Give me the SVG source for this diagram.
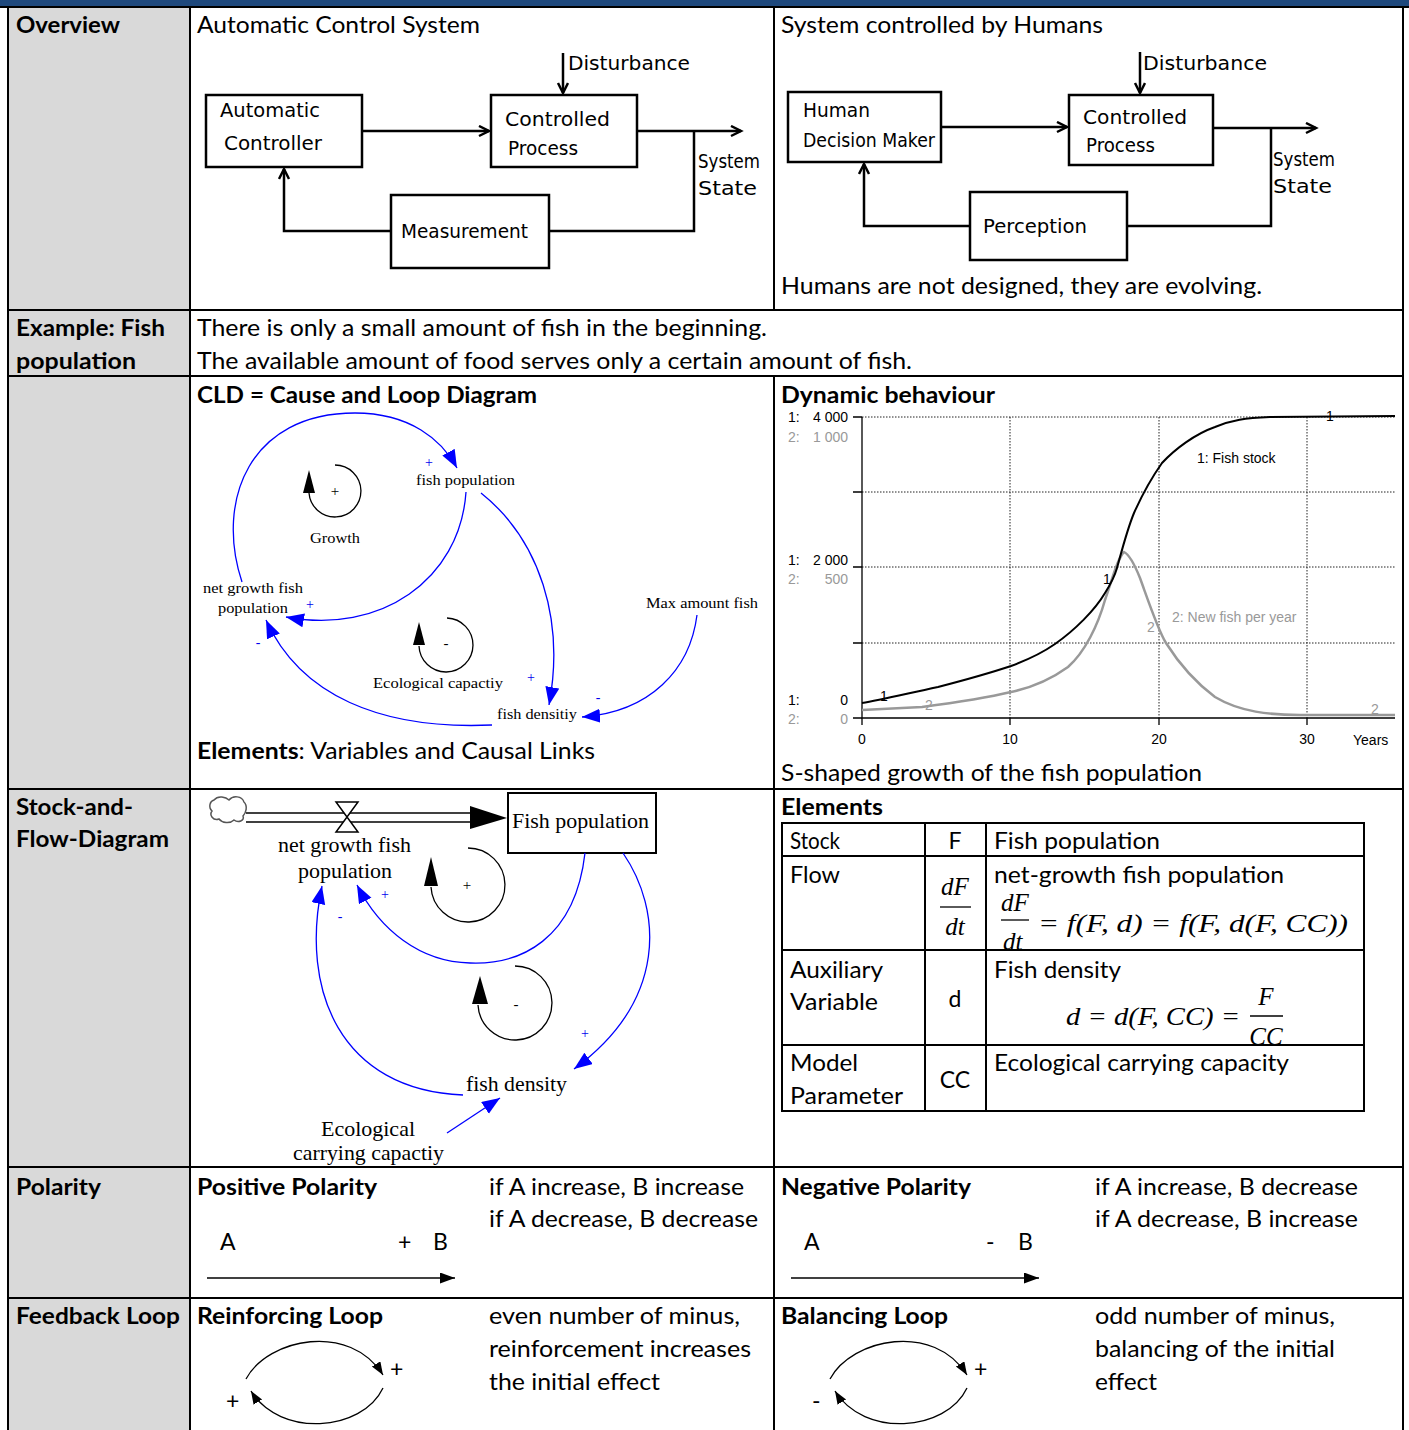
<svg xmlns="http://www.w3.org/2000/svg" width="1409" height="1430" viewBox="0 0 1409 1430">
<style>
.t{font-family:Lato,"Open Sans",sans-serif;font-size:23px;fill:#000}
.b{font-weight:bold}
.hw{font-family:"DejaVu Sans",sans-serif;font-size:20px;fill:#000}
.sf{font-family:"Liberation Serif",serif;font-size:15px;fill:#000}
.sf2{font-family:"Liberation Serif",serif;font-size:21px;fill:#000}
.ax{font-family:"Liberation Sans",sans-serif;font-size:14px;fill:#000}
.axg{font-family:"Liberation Sans",sans-serif;font-size:14px;fill:#999}
.m{font-family:"Liberation Serif",serif;font-style:italic;font-size:25px;fill:#000}
.bs{font-family:"Liberation Serif",serif;font-size:14px;fill:#0000ee}
.grid{stroke:#222;stroke-width:1;stroke-dasharray:1.5 1.5;fill:none}
.hb{fill:none;stroke:#000;stroke-width:2.5}
.hl{fill:none;stroke:#000;stroke-width:2.5}
.blue{fill:none;stroke:#0000ff;stroke-width:1.3}
.bl{fill:none;stroke:#000;stroke-width:1.3}
.rule{stroke:#000;stroke-width:2}
</style>
<defs>
<marker id="open" markerUnits="userSpaceOnUse" markerWidth="14" markerHeight="14" refX="11" refY="6" orient="auto"><path d="M1,1 L11,6 L1,11" fill="none" stroke="#000" stroke-width="2.5"/></marker>
<marker id="bh" markerUnits="userSpaceOnUse" markerWidth="20" markerHeight="16" refX="18" refY="7" orient="auto"><path d="M0,0 L18,7 L0,14 Z" fill="#0000ff"/></marker>
<marker id="kh" markerUnits="userSpaceOnUse" markerWidth="16" markerHeight="12" refX="15" refY="5.5" orient="auto"><path d="M0,0 L15,5.5 L0,11 Z" fill="#000"/></marker>
<marker id="ks" markerUnits="userSpaceOnUse" markerWidth="14" markerHeight="12" refX="13" refY="5" orient="auto"><path d="M0,0 L13,5 L0,10 Z" fill="#000"/></marker>
</defs>

<g id="table">
<rect x="0" y="0" width="1409" height="6" fill="#1f497d"/>
<rect x="8" y="6" width="182" height="1424" fill="#d9d9d9"/>
<line class="rule" x1="0" y1="7" x2="1409" y2="7"/>
<line class="rule" x1="8" y1="6" x2="8" y2="1430"/>
<line class="rule" x1="190" y1="6" x2="190" y2="1430"/>
<line class="rule" x1="774" y1="6" x2="774" y2="310"/>
<line class="rule" x1="774" y1="376" x2="774" y2="1430"/>
<line class="rule" x1="1403" y1="6" x2="1403" y2="1430"/>
<line class="rule" x1="8" y1="310" x2="1403" y2="310"/>
<line class="rule" x1="8" y1="376" x2="1403" y2="376"/>
<line class="rule" x1="8" y1="789" x2="1403" y2="789"/>
<line class="rule" x1="8" y1="1167" x2="1403" y2="1167"/>
<line class="rule" x1="8" y1="1298" x2="1403" y2="1298"/>
</g>

<g id="labels">
<text class="t b" x="16" y="33" textLength="104" lengthAdjust="spacingAndGlyphs">Overview</text>
<text class="t b" x="16" y="336" textLength="149" lengthAdjust="spacingAndGlyphs">Example: Fish</text>
<text class="t b" x="16" y="369" textLength="120" lengthAdjust="spacingAndGlyphs">population</text>
<text class="t b" x="16" y="815" textLength="117" lengthAdjust="spacingAndGlyphs">Stock-and-</text>
<text class="t b" x="16" y="847" textLength="153" lengthAdjust="spacingAndGlyphs">Flow-Diagram</text>
<text class="t b" x="16" y="1195" textLength="85" lengthAdjust="spacingAndGlyphs">Polarity</text>
<text class="t b" x="16" y="1324" textLength="164" lengthAdjust="spacingAndGlyphs">Feedback Loop</text>
</g>

<g id="overview-text">
<text class="t" x="197" y="33" textLength="283" lengthAdjust="spacingAndGlyphs">Automatic Control System</text>
<text class="t" x="781" y="33" textLength="322" lengthAdjust="spacingAndGlyphs">System controlled by Humans</text>
<text class="t" x="781" y="294" textLength="481" lengthAdjust="spacingAndGlyphs">Humans are not designed, they are evolving.</text>
<text class="t" x="197" y="336" textLength="570" lengthAdjust="spacingAndGlyphs">There is only a small amount of fish in the beginning.</text>
<text class="t" x="197" y="369" textLength="715" lengthAdjust="spacingAndGlyphs">The available amount of food serves only a certain amount of fish.</text>
</g>

<g id="auto-controller"><rect class="hb" x="206" y="95" width="156" height="72"/><text class="hw" x="220" y="117" textLength="100" lengthAdjust="spacingAndGlyphs">Automatic</text><text class="hw" x="224" y="150" textLength="98" lengthAdjust="spacingAndGlyphs">Controller</text></g>
<g id="controlled-process-1"><rect class="hb" x="491" y="95" width="146" height="72"/><text class="hw" x="505" y="126" textLength="105" lengthAdjust="spacingAndGlyphs">Controlled</text><text class="hw" x="508" y="155" textLength="70" lengthAdjust="spacingAndGlyphs">Process</text></g>
<g id="measurement"><rect class="hb" x="391" y="195" width="158" height="73"/><text class="hw" x="401" y="238" textLength="127" lengthAdjust="spacingAndGlyphs">Measurement</text></g>
<g id="disturbance-1"><text class="hw" x="568" y="70" textLength="122" lengthAdjust="spacingAndGlyphs">Disturbance</text></g>
<g id="system-state-1"><text class="hw" x="698" y="168" textLength="62" lengthAdjust="spacingAndGlyphs">System</text><text class="hw" x="698" y="195" textLength="59" lengthAdjust="spacingAndGlyphs">State</text></g>

<g id="human-decision"><rect class="hb" x="788" y="92" width="153" height="70"/><text class="hw" x="803" y="117" textLength="67" lengthAdjust="spacingAndGlyphs">Human</text><text class="hw" x="803" y="147" textLength="132" lengthAdjust="spacingAndGlyphs">Decision Maker</text></g>
<g id="controlled-process-2"><rect class="hb" x="1069" y="95" width="144" height="70"/><text class="hw" x="1083" y="124" textLength="104" lengthAdjust="spacingAndGlyphs">Controlled</text><text class="hw" x="1086" y="152" textLength="69" lengthAdjust="spacingAndGlyphs">Process</text></g>
<g id="perception"><rect class="hb" x="970" y="192" width="157" height="68"/><text class="hw" x="983" y="233" textLength="104" lengthAdjust="spacingAndGlyphs">Perception</text></g>
<g id="disturbance-2"><text class="hw" x="1143" y="70" textLength="124" lengthAdjust="spacingAndGlyphs">Disturbance</text></g>
<g id="system-state-2"><text class="hw" x="1273" y="166" textLength="62" lengthAdjust="spacingAndGlyphs">System</text><text class="hw" x="1273" y="193" textLength="59" lengthAdjust="spacingAndGlyphs">State</text></g>

<g id="overview-connectors">
<path class="hl" d="M362,131 L489,131" marker-end="url(#open)"/>
<path class="hl" d="M637,131 L741,131" marker-end="url(#open)"/>
<path class="hl" d="M563,53 L563,93" marker-end="url(#open)"/>
<path class="hl" d="M694,131 L694,231 L549,231"/>
<path class="hl" d="M391,231 L284,231 L284,169" marker-end="url(#open)"/>
<path class="hl" d="M941,127 L1067,127" marker-end="url(#open)"/>
<path class="hl" d="M1213,128 L1316,128" marker-end="url(#open)"/>
<path class="hl" d="M1140,52 L1140,93" marker-end="url(#open)"/>
<path class="hl" d="M1271,128 L1271,226 L1127,226"/>
<path class="hl" d="M970,226 L864,226 L864,164" marker-end="url(#open)"/>
</g>

<text class="t b" x="197" y="403" textLength="340" lengthAdjust="spacingAndGlyphs">CLD = Cause and Loop Diagram</text>
<text class="t" x="197" y="759" textLength="398" lengthAdjust="spacingAndGlyphs"><tspan class="b">Elements</tspan>: Variables and Causal Links</text>
<g id="cld-fish-population"><text class="sf" x="416" y="485" textLength="99" lengthAdjust="spacingAndGlyphs">fish population</text></g>
<g id="cld-growth"><text class="sf" x="310" y="543" textLength="50" lengthAdjust="spacingAndGlyphs">Growth</text>
<path class="bl" d="M335,465 A26,26 0 1,1 309,493"/><polygon points="309,470 303,493 315,493" fill="#000"/><text class="sf" x="335" y="496" text-anchor="middle" font-size="12">+</text></g>
<g id="cld-net-growth"><text class="sf" x="203" y="593" textLength="100" lengthAdjust="spacingAndGlyphs">net growth fish</text><text class="sf" x="218" y="613" textLength="70" lengthAdjust="spacingAndGlyphs">population</text></g>
<g id="cld-max"><text class="sf" x="646" y="608" textLength="112" lengthAdjust="spacingAndGlyphs">Max amount fish</text></g>
<g id="cld-eco"><text class="sf" x="373" y="688" textLength="130" lengthAdjust="spacingAndGlyphs">Ecological capactiy</text>
<path class="bl" d="M447,618 A27,27 0 1,1 419,646"/><polygon points="419,622 413,645 425,645" fill="#000"/><text class="sf" x="446" y="648" text-anchor="middle" font-size="12">-</text></g>
<g id="cld-density"><text class="sf" x="497" y="719" textLength="80" lengthAdjust="spacingAndGlyphs">fish densitiy</text></g>
<g id="cld-connectors">
<path class="blue" d="M242,582 C215,500 250,413 355,413 C410,413 442,440 457,468" marker-end="url(#bh)"/>
<path class="blue" d="M466,492 C460,580 380,635 286,617" marker-end="url(#bh)"/>
<path class="blue" d="M481,493 C540,540 565,620 549,705" marker-end="url(#bh)"/>
<path class="blue" d="M697,615 C690,670 650,712 582,717" marker-end="url(#bh)"/>
<path class="blue" d="M492,725 C380,730 300,695 266,620" marker-end="url(#bh)"/>
<text class="bs" x="429" y="467" text-anchor="middle">+</text>
<text class="bs" x="310" y="609" text-anchor="middle">+</text>
<text class="bs" x="258" y="647" text-anchor="middle">-</text>
<text class="bs" x="531" y="682" text-anchor="middle">+</text>
<text class="bs" x="598" y="702" text-anchor="middle">-</text>
</g>

<text class="t b" x="781" y="403" textLength="214" lengthAdjust="spacingAndGlyphs">Dynamic behaviour</text>
<text class="t" x="781" y="781" textLength="421" lengthAdjust="spacingAndGlyphs">S-shaped growth of the fish population</text>
<g id="chart">
<line class="grid" x1="862" y1="417" x2="1395" y2="417"/>
<line class="grid" x1="862" y1="492" x2="1395" y2="492"/>
<line class="grid" x1="862" y1="567" x2="1395" y2="567"/>
<line class="grid" x1="862" y1="643" x2="1395" y2="643"/>
<line class="grid" x1="1010" y1="417" x2="1010" y2="718"/>
<line class="grid" x1="1159" y1="417" x2="1159" y2="718"/>
<line class="grid" x1="1307" y1="417" x2="1307" y2="718"/>
<path d="M862,417 L862,718 L1395,718" fill="none" stroke="#000" stroke-width="1.3"/>
<path d="M853,417 H862 M853,492 H862 M853,567 H862 M853,643 H862 M853,718 H862 M862,718 V725 M1010,718 V725 M1159,718 V725 M1307,718 V725" stroke="#000" stroke-width="1.3"/>
<text class="ax" x="788" y="422">1:</text><text class="ax" x="848" y="422" text-anchor="end">4 000</text>
<text class="axg" x="788" y="442">2:</text><text class="axg" x="848" y="442" text-anchor="end">1 000</text>
<text class="ax" x="788" y="565">1:</text><text class="ax" x="848" y="565" text-anchor="end">2 000</text>
<text class="axg" x="788" y="584">2:</text><text class="axg" x="848" y="584" text-anchor="end">500</text>
<text class="ax" x="788" y="705">1:</text><text class="ax" x="848" y="705" text-anchor="end">0</text>
<text class="axg" x="788" y="724">2:</text><text class="axg" x="848" y="724" text-anchor="end">0</text>
<text class="ax" x="862" y="744" text-anchor="middle">0</text>
<text class="ax" x="1010" y="744" text-anchor="middle">10</text>
<text class="ax" x="1159" y="744" text-anchor="middle">20</text>
<text class="ax" x="1307" y="744" text-anchor="middle">30</text>
<text class="ax" x="1353" y="745">Years</text>
<path d="M862,710 C885,709 905,708 922,707 C960,702 990,697 1011,692 C1030,688 1050,680 1068,667 C1085,652 1098,625 1105,600 C1112,580 1118,557 1124,552 C1130,555 1136,568 1140,578 C1148,600 1158,630 1166,643 C1178,662 1195,682 1215,697 C1240,712 1270,715 1300,715 L1395,715" fill="none" stroke="#999" stroke-width="2.5"/>
<path d="M862,703 C880,700 905,694 938,687 C965,680 990,673 1011,666 C1030,659 1045,651 1055,644 C1075,630 1095,610 1105,593 C1112,582 1115,575 1117,568 C1122,550 1127,530 1134,513 C1142,495 1150,480 1162,463 C1175,449 1195,434 1215,427 C1232,420 1245,418 1270,417 L1395,416" fill="none" stroke="#000" stroke-width="2"/>
<text class="ax" x="880" y="701" font-size="13">1</text>
<text class="axg" x="925" y="710" font-size="13">2</text>
<text class="ax" x="1103" y="584" font-size="13">1</text>
<text class="axg" x="1147" y="632" font-size="13">2</text>
<text class="ax" x="1326" y="421" font-size="13">1</text>
<text class="axg" x="1371" y="714" font-size="13">2</text>
<text class="ax" x="1197" y="463">1: Fish stock</text>
<text class="axg" x="1172" y="622">2: New fish per year</text>
</g>

<g id="sf-cloud"><path d="M214,800 C218,795 226,797 229,800 C233,795 242,796 244,802 C248,806 246,813 243,816 C245,821 238,823 234,820 C230,824 222,823 219,819 C213,821 209,815 212,811 C208,807 210,801 214,800 Z" fill="#fff" stroke="#555" stroke-width="1.5"/></g>
<g id="sf-flow">
<line x1="246" y1="813" x2="472" y2="813" stroke="#000" stroke-width="1.5"/>
<line x1="246" y1="822" x2="472" y2="822" stroke="#000" stroke-width="1.5"/>
<polygon points="470,806 507,818 470,829" fill="#000"/>
<path d="M336,802 L358,802 L336,832 L358,832 Z" fill="#fff" stroke="#000" stroke-width="1.5"/>
<text class="sf2" x="278" y="852" textLength="133" lengthAdjust="spacingAndGlyphs">net growth fish</text>
<text class="sf2" x="298" y="878" textLength="94" lengthAdjust="spacingAndGlyphs">population</text>
</g>
<g id="sf-stock"><rect x="508" y="793" width="148" height="60" fill="#fff" stroke="#000" stroke-width="2"/><text class="sf2" x="512" y="828" textLength="137" lengthAdjust="spacingAndGlyphs">Fish population</text></g>
<g id="sf-loop-pos"><path class="bl" d="M468,848 A37,37 0 1,1 431,887"/><polygon points="431,857 424,886 438,886" fill="#000"/><text class="sf" x="467" y="890" text-anchor="middle" font-size="16">+</text></g>
<g id="sf-loop-neg"><path class="bl" d="M515,966 A37,37 0 1,1 478,1005"/><polygon points="480,976 472,1004 488,1004" fill="#000"/><text class="sf" x="516" y="1009" text-anchor="middle" font-size="16">-</text></g>
<g id="sf-density"><text class="sf2" x="466" y="1091" textLength="101" lengthAdjust="spacingAndGlyphs">fish density</text></g>
<g id="sf-eco"><text class="sf2" x="321" y="1136" textLength="94" lengthAdjust="spacingAndGlyphs">Ecological</text><text class="sf2" x="293" y="1160" textLength="151" lengthAdjust="spacingAndGlyphs">carrying capactiy</text></g>
<g id="sf-connectors">
<path class="blue" d="M585,853 C575,940 520,965 470,963 C420,962 380,930 357,885" marker-end="url(#bh)"/>
<path class="blue" d="M623,853 C662,910 668,1000 574,1069" marker-end="url(#bh)"/>
<path class="blue" d="M463,1095 C340,1090 300,990 322,886" marker-end="url(#bh)"/>
<path class="blue" d="M447,1133 L500,1098" marker-end="url(#bh)"/>
<text class="bs" x="385" y="899" text-anchor="middle" font-size="16">+</text>
<text class="bs" x="340" y="921" text-anchor="middle" font-size="16">-</text>
<text class="bs" x="585" y="1038" text-anchor="middle" font-size="16">+</text>
</g>

<text class="t b" x="781" y="815" textLength="102" lengthAdjust="spacingAndGlyphs">Elements</text>
<g id="elements-table">
<rect x="782" y="823" width="582" height="288" fill="none" stroke="#000" stroke-width="2"/>
<line x1="782" y1="856" x2="1364" y2="856" stroke="#000" stroke-width="2"/>
<line x1="782" y1="950" x2="1364" y2="950" stroke="#000" stroke-width="2"/>
<line x1="782" y1="1045" x2="1364" y2="1045" stroke="#000" stroke-width="2"/>
<line x1="925" y1="823" x2="925" y2="1111" stroke="#000" stroke-width="2"/>
<line x1="986" y1="823" x2="986" y2="1111" stroke="#000" stroke-width="2"/>
<text class="t" x="790" y="849" textLength="50" lengthAdjust="spacingAndGlyphs">Stock</text>
<text class="t" x="955" y="849" text-anchor="middle">F</text>
<text class="t" x="994" y="849" textLength="166" lengthAdjust="spacingAndGlyphs">Fish population</text>
<text class="t" x="790" y="883" textLength="50" lengthAdjust="spacingAndGlyphs">Flow</text>
<text class="m" x="955" y="895" text-anchor="middle">dF</text>
<line x1="940" y1="907" x2="971" y2="907" stroke="#000" stroke-width="1.3"/>
<text class="m" x="955" y="935" text-anchor="middle">dt</text>
<text class="t" x="994" y="883" textLength="290" lengthAdjust="spacingAndGlyphs">net-growth fish population</text>
<text class="m" x="1001" y="911">dF</text>
<line x1="1001" y1="920" x2="1029" y2="920" stroke="#000" stroke-width="1.3"/>
<text class="m" x="1003" y="950">dt</text>
<text class="m" x="1038" y="932" textLength="310" lengthAdjust="spacingAndGlyphs">= f(F, d) = f(F, d(F, CC))</text>
<text class="t" x="790" y="978" textLength="93" lengthAdjust="spacingAndGlyphs">Auxiliary</text>
<text class="t" x="790" y="1010" textLength="88" lengthAdjust="spacingAndGlyphs">Variable</text>
<text class="t" x="955" y="1007" text-anchor="middle">d</text>
<text class="t" x="994" y="978" textLength="127" lengthAdjust="spacingAndGlyphs">Fish density</text>
<text class="m" x="1066" y="1025" textLength="174" lengthAdjust="spacingAndGlyphs">d = d(F, CC) =</text>
<text class="m" x="1266" y="1005" text-anchor="middle">F</text>
<line x1="1250" y1="1016" x2="1283" y2="1016" stroke="#000" stroke-width="1.3"/>
<text class="m" x="1266" y="1045" text-anchor="middle">CC</text>
<text class="t" x="790" y="1071" textLength="68" lengthAdjust="spacingAndGlyphs">Model</text>
<text class="t" x="790" y="1104" textLength="113" lengthAdjust="spacingAndGlyphs">Parameter</text>
<text class="t" x="955" y="1088" text-anchor="middle">CC</text>
<text class="t" x="994" y="1071" textLength="295" lengthAdjust="spacingAndGlyphs">Ecological carrying capacity</text>
</g>

<g id="positive-polarity">
<text class="t b" x="197" y="1195" textLength="180" lengthAdjust="spacingAndGlyphs">Positive Polarity</text>
<text class="t" x="489" y="1195" textLength="255" lengthAdjust="spacingAndGlyphs">if A increase, B increase</text>
<text class="t" x="489" y="1227" textLength="269" lengthAdjust="spacingAndGlyphs">if A decrease, B decrease</text>
<text class="t" x="220" y="1250">A</text>
<text class="t" x="398" y="1250">+</text>
<text class="t" x="433" y="1250">B</text>
</g>
<g id="negative-polarity">
<text class="t b" x="781" y="1195" textLength="190" lengthAdjust="spacingAndGlyphs">Negative Polarity</text>
<text class="t" x="1095" y="1195" textLength="263" lengthAdjust="spacingAndGlyphs">if A increase, B decrease</text>
<text class="t" x="1095" y="1227" textLength="263" lengthAdjust="spacingAndGlyphs">if A decrease, B increase</text>
<text class="t" x="804" y="1250">A</text>
<text class="t" x="986" y="1250">-</text>
<text class="t" x="1018" y="1250">B</text>
</g>

<g id="reinforcing-loop">
<text class="t b" x="197" y="1324" textLength="186" lengthAdjust="spacingAndGlyphs">Reinforcing Loop</text>
<text class="t" x="489" y="1324" textLength="251" lengthAdjust="spacingAndGlyphs">even number of minus,</text>
<text class="t" x="489" y="1357" textLength="262" lengthAdjust="spacingAndGlyphs">reinforcement increases</text>
<text class="t" x="489" y="1390" textLength="171" lengthAdjust="spacingAndGlyphs">the initial effect</text>
<text class="t" x="390" y="1377" font-size="20">+</text>
<text class="t" x="226" y="1409" font-size="20">+</text>
</g>
<g id="balancing-loop">
<text class="t b" x="781" y="1324" textLength="167" lengthAdjust="spacingAndGlyphs">Balancing Loop</text>
<text class="t" x="1095" y="1324" textLength="240" lengthAdjust="spacingAndGlyphs">odd number of minus,</text>
<text class="t" x="1095" y="1357" textLength="240" lengthAdjust="spacingAndGlyphs">balancing of the initial</text>
<text class="t" x="1095" y="1390" textLength="62" lengthAdjust="spacingAndGlyphs">effect</text>
<text class="t" x="974" y="1377" font-size="20">+</text>
<text class="t" x="812" y="1409" font-size="20">-</text>
</g>

<g id="connectors">
<path d="M207,1278 L455,1278" stroke="#000" stroke-width="1.6" marker-end="url(#kh)"/>
<path d="M791,1278 L1039,1278" stroke="#000" stroke-width="1.6" marker-end="url(#kh)"/>
<path class="bl" d="M246,1379 C268,1338 350,1322 383,1375" marker-end="url(#ks)"/>
<path class="bl" d="M383,1388 C362,1432 280,1438 251,1391" marker-end="url(#ks)"/>
<path class="bl" d="M830,1379 C852,1338 934,1322 967,1375" marker-end="url(#ks)"/>
<path class="bl" d="M967,1388 C946,1432 864,1438 835,1391" marker-end="url(#ks)"/>
</g>
</svg>
